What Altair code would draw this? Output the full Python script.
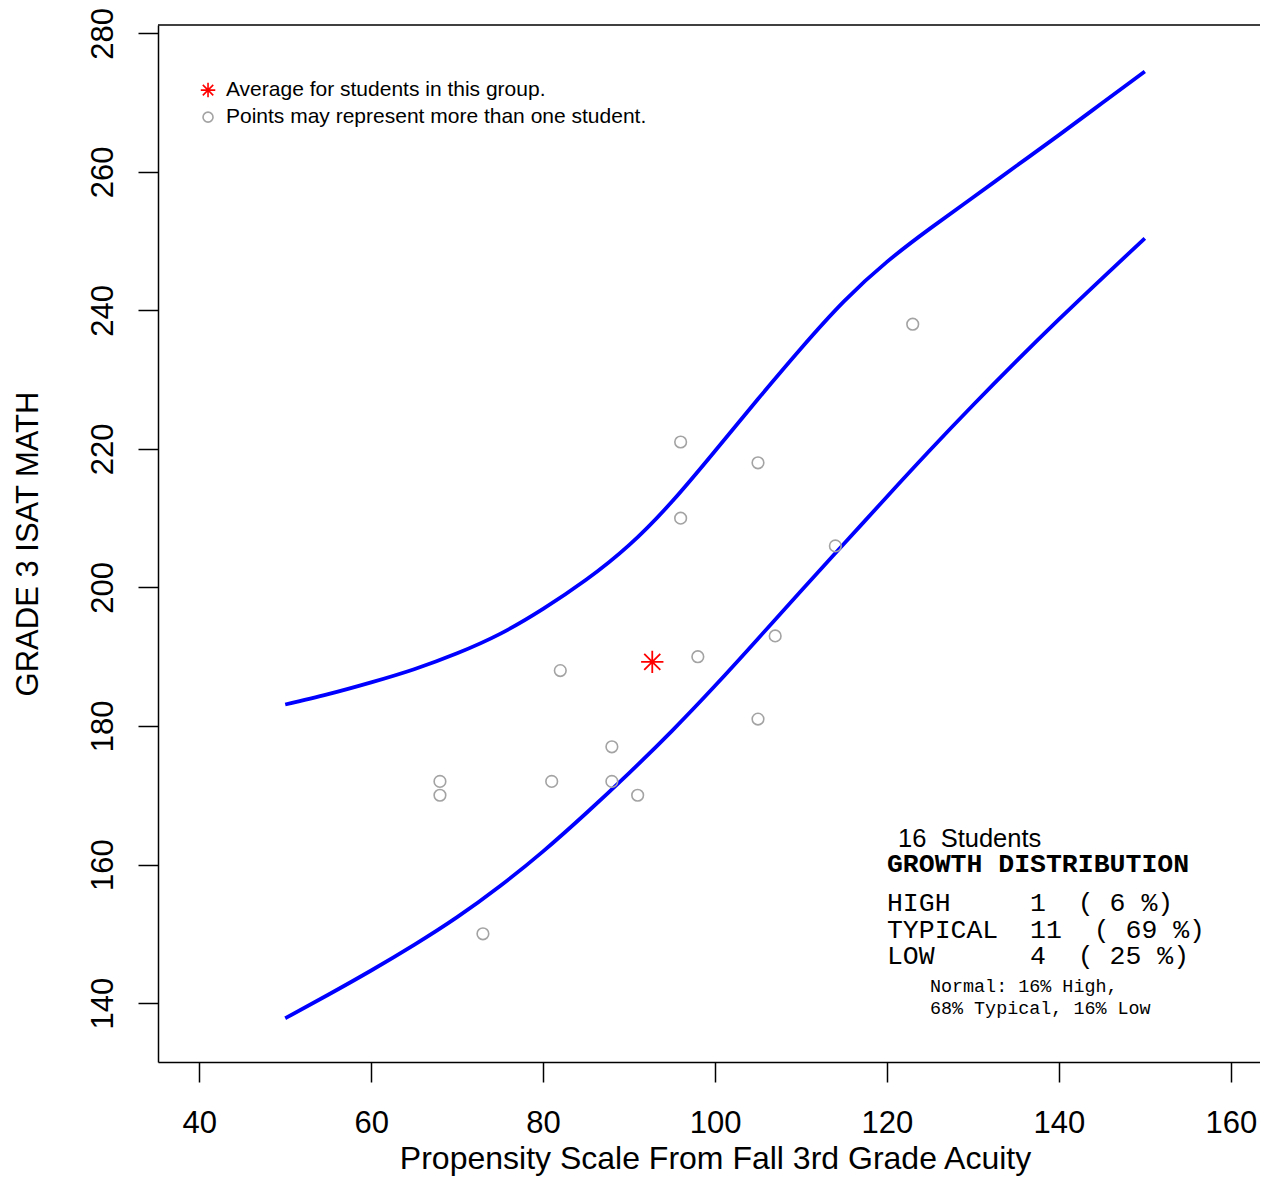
import altair as alt
import pandas as pd

# ---------------- data ----------------
curve_x = [50, 55, 60, 65, 70, 75, 80, 85, 90, 95, 100, 105, 110, 115, 120, 125, 130, 135, 140, 145, 150]
upper_y = [183.1, 184.6, 186.3, 188.2, 190.5, 193.3, 196.9, 201.1, 206.1, 212.4, 219.7, 227.2,
           234.5, 241.3, 247.0, 251.8, 256.3, 260.8, 265.3, 269.9, 274.5]
lower_y = [137.8, 141.2, 144.7, 148.4, 152.4, 156.9, 161.9, 167.4, 173.2, 179.3, 185.8, 192.6,
           199.5, 206.3, 213.1, 219.8, 226.3, 232.6, 238.7, 244.6, 250.4]

student_x = [96, 105, 96, 123, 114, 107, 98, 82, 105, 88, 68, 68, 81, 88, 91, 73]
student_y = [221, 218, 210, 238, 206, 193, 190, 188, 181, 177, 172, 170, 172, 172, 170, 150]

avg_x = [92.7]
avg_y = [189.25]

x_ticks = [40, 60, 80, 100, 120, 140, 160]
y_ticks = [140, 160, 180, 200, 220, 240, 260, 280]

legend_labels = ["Average for students in this group.", "Points may represent more than one student."]
legend_mark_x = [41.02, 41.02]
legend_mark_y = [271.8, 267.9]
legend_text_x = [43.11, 43.11]
legend_text_y = [270.95, 267.05]

table_head = "16  Students"
table_title = "GROWTH DISTRIBUTION"
table_rows = ["HIGH     1  ( 6 %)", "TYPICAL  11  ( 69 %)", "LOW      4  ( 25 %)"]
table_notes = ["Normal: 16% High,", "68% Typical, 16% Low"]
head_x = 121.3
table_x = 120.0
notes_x = 125.0
head_y = 162.6
title_y = 158.95
rows_y = [153.35, 149.45, 145.7]
notes_y = [141.65, 138.45]

# ---------------- layout ----------------
W, H = 1102, 1037
X_DOMAIN = [35.2, 163.4]
Y_DOMAIN = [131.49, 281.2]
SANS = "Liberation Sans"
MONO = "Liberation Mono"


def nb(s):
    return s.replace(" ", "\u00a0")


xs = alt.Scale(domain=X_DOMAIN, nice=False, zero=False)
ys = alt.Scale(domain=Y_DOMAIN, nice=False, zero=False)

x_axis = alt.Axis(
    values=x_ticks, tickSize=20, tickWidth=1.5, tickColor="black",
    domainColor="black", domainWidth=1.5, grid=False,
    labelFont=SANS, labelFontSize=31, labelColor="black",
    labelBaseline="alphabetic", labelPadding=50, labelFlush=False,
    title="Propensity Scale From Fall 3rd Grade Acuity",
    titleFont=SANS, titleFontSize=32, titleFontWeight="normal", titleColor="black",
    titleX=557, titleY=106, titleAlign="center", titleBaseline="alphabetic", titleAngle=0,
)
y_axis = alt.Axis(
    values=y_ticks, tickSize=20, tickWidth=1.5, tickColor="black",
    domainColor="black", domainWidth=1.5, grid=False,
    labelFont=SANS, labelFontSize=31, labelColor="black",
    labelAngle=270, labelAlign="center", labelBaseline="alphabetic", labelPadding=26,
    labelFlush=False,
    title="GRADE 3 ISAT MATH",
    titleFont=SANS, titleFontSize=31, titleFontWeight="normal", titleColor="black",
    titleX=-121, titleY=H / 2, titleAngle=270, titleAlign="center", titleBaseline="alphabetic",
)

X = alt.X("x:Q", scale=xs, axis=x_axis)
Y = alt.Y("y:Q", scale=ys, axis=y_axis)

curves = pd.DataFrame({
    "x": curve_x + curve_x,
    "y": upper_y + lower_y,
    "band": ["upper"] * len(curve_x) + ["lower"] * len(curve_x),
})
students = pd.DataFrame({"x": student_x, "y": student_y})
avg = pd.DataFrame({"x": avg_x, "y": avg_y})

line_layer = alt.Chart(curves).mark_line(color="#0000FF", strokeWidth=3.8, interpolate="natural").encode(
    x=X, y=Y, detail="band:N",
)

pts_layer = alt.Chart(students).mark_point(
    shape="circle", filled=False, size=135, color="#A3A3A3", strokeWidth=1.6, opacity=1
).encode(x=X, y=Y)

ASTER = "M-1,0L1,0M0,-1L0,1M-0.72,-0.72L0.72,0.72M-0.72,0.72L0.72,-0.72"

avg_layer = alt.Chart(avg).mark_point(
    shape=ASTER, filled=False, size=500, color="#FF0000", strokeWidth=1.8, opacity=1
).encode(x=X, y=Y)

leg_star = alt.Chart(pd.DataFrame({"x": legend_mark_x[:1], "y": legend_mark_y[:1]})).mark_point(
    shape=ASTER, filled=False, size=210, color="#FF0000", strokeWidth=1.6, opacity=1
).encode(x=X, y=Y)

leg_circ = alt.Chart(pd.DataFrame({"x": legend_mark_x[1:], "y": legend_mark_y[1:]})).mark_point(
    shape="circle", filled=False, size=100, color="#A3A3A3", strokeWidth=1.6, opacity=1
).encode(x=X, y=Y)

leg_text = alt.Chart(pd.DataFrame({"x": legend_text_x, "y": legend_text_y, "t": legend_labels})).mark_text(
    font=SANS, fontSize=21, align="left", baseline="alphabetic", color="black"
).encode(x=X, y=Y, text="t:N")

head_text = alt.Chart(pd.DataFrame({"x": [head_x], "y": [head_y], "t": [nb(table_head)]})).mark_text(
    font=SANS, fontSize=25.5, align="left", baseline="alphabetic", color="black"
).encode(x=X, y=Y, text="t:N")

title_text = alt.Chart(pd.DataFrame({"x": [table_x], "y": [title_y], "t": [nb(table_title)]})).mark_text(
    font=MONO, fontSize=26.5, fontWeight="bold", align="left", baseline="alphabetic", color="black"
).encode(x=X, y=Y, text="t:N")

rows_text = alt.Chart(pd.DataFrame({"x": [table_x] * 3, "y": rows_y, "t": [nb(r) for r in table_rows]})).mark_text(
    font=MONO, fontSize=26.5, align="left", baseline="alphabetic", color="black"
).encode(x=X, y=Y, text="t:N")

notes_text = alt.Chart(pd.DataFrame({"x": [notes_x] * 2, "y": notes_y, "t": [nb(r) for r in table_notes]})).mark_text(
    font=MONO, fontSize=18.4, align="left", baseline="alphabetic", color="black"
).encode(x=X, y=Y, text="t:N")

top_frame = alt.Chart(pd.DataFrame({"a": [0]})).mark_rule(color="black", strokeWidth=1.5).encode(
    x=alt.value(0), x2=alt.value(W), y=alt.value(0)
)

chart = alt.layer(
    line_layer, pts_layer, avg_layer, leg_star, leg_circ, leg_text,
    head_text, title_text, rows_text, notes_text, top_frame,
).properties(
    width=W, height=H,
    padding={"left": 150, "top": 17, "right": 0, "bottom": 118},
    autosize=alt.AutoSizeParams(type="none"),
    background="white",
).configure_view(stroke=None)

chart.save("out.html", embed_options={"renderer": "svg", "actions": False})
